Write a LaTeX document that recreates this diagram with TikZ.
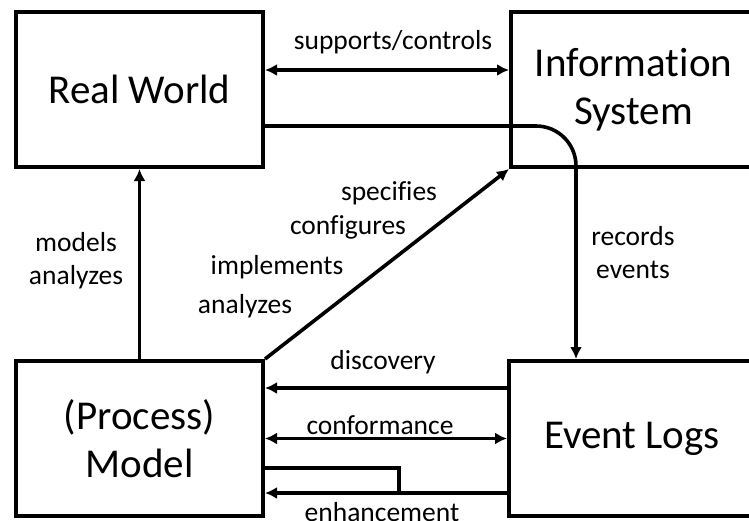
\documentclass[tikz,border=0pt]{standalone}
\usepackage{fontspec}
\setmainfont{Carlito}[Ligatures=NoCommon]
\usetikzlibrary{arrows.meta}
\begin{document}
\begin{tikzpicture}[x=1pt,y=-1pt,
  box/.style={draw,line width=4pt,inner sep=0pt,align=center,
    font=\fontsize{41}{48}\selectfont},
  lbl/.style={inner sep=0pt,align=center,font=\fontsize{27.5}{33}\selectfont},
  plain/.style={line width=3.6pt},
  conn/.style={plain,-{Latex[length=12pt,width=12pt]}},
  dconn/.style={plain,{Latex[length=12pt,width=12pt]}-{Latex[length=12pt,width=12pt]}}]
\useasboundingbox (0,0) rectangle (749,520);
\clip (0,0) rectangle (749,520);
% boxes
\node[box,minimum width=247pt,minimum height=155.5pt] (rw) at (139.5,89.25) {Real World};
\node[box,minimum width=245pt,minimum height=155.5pt] (is) at (633.5,89.25) {Information\\System};
\node[box,minimum width=247pt,minimum height=155pt] (pm) at (139.5,438.5) {(Process)\\Model};
\node[box,minimum width=246pt,minimum height=155pt] (el) at (632,438.5) {Event Logs};
% connectors
\draw[dconn] ([yshift=19.25pt]rw.east) -- ([yshift=19.25pt]is.west);
\draw[conn,rounded corners=40pt] ([yshift=-36.75pt]rw.east) -| ([xshift=-56pt]el.north);
\draw[conn] (pm) -- (rw);
\draw[conn] (pm.north east) -- (is.south west);
\draw[conn] ([yshift=50.5pt]el.west) -- ([yshift=50.5pt]pm.east);
\draw[dconn] (el.west) -- (pm.east);
\coordinate (enhj) at (399,493);
\draw[plain] ([yshift=-29.5pt]pm.east) -| (enhj);
\draw[conn] ([yshift=-54.5pt]el.west) -- ([yshift=-54.5pt]pm.east);
% labels
\node[lbl] (l1) at (393,42) {supports/controls};
\node[lbl] (l2) at (76,261) {models\\analyzes};
\node[lbl] (l3) at (389,193) {specifies};
\node[lbl] (l4) at (348,227) {configures};
\node[lbl] (l5) at (277,267) {implements};
\node[lbl] (l6) at (245,306) {analyzes};
\node[lbl] (l7) at (633,253) {records\\events};
\node[lbl] (l8) at (383,362) {discovery};
\node[lbl] (l9) at (380,425) {conformance};
\node[lbl] (l10) at (382,512) {enhancement};
\end{tikzpicture}
\end{document}
